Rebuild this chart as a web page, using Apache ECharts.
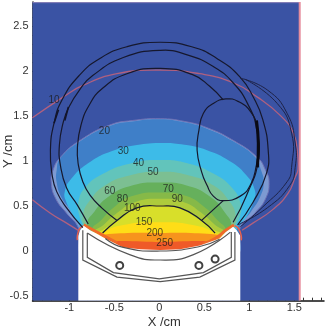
<!DOCTYPE html>
<html><head><meta charset="utf-8">
<style>html,body{margin:0;padding:0;background:#fff}#c{width:327px;height:333px}</style>
<script src="https://cdn.jsdelivr.net/npm/echarts@6/dist/echarts.min.js"></script>
</head><body><div id="c"></div>
<script>
const xTicks=[-1,-0.5,0,0.5,1,1.5];
const yTicks=[-0.5,0,0.5,1,1.5,2,2.5];
const xMinor=[-1.4,-1.3,-1.2,-1.1,-0.9,-0.8,-0.7,-0.6,-0.4,-0.3,-0.2,-0.1,0.1,0.2,0.3,0.4,0.6,0.7,0.8,0.9,1.1,1.2,1.3,1.4,1.6,1.7,1.8];
const yMinor=[-0.4,-0.3,-0.2,-0.1,0.1,0.2,0.3,0.4,0.6,0.7,0.8,0.9,1.1,1.2,1.3,1.4,1.6,1.7,1.8,1.9,2.1,2.2,2.3,2.4,2.6,2.7];
const XMIN=-1.409,XMAX=1.83,YMIN=-0.552,YMAX=2.767;

const domain=[[XMIN,YMIN],[1.56,YMIN],[1.56,YMAX],[XMIN,YMAX]];
const band15=[[0.01,1.47],[-0.30,1.45],[-0.55,1.40],[-0.88,1.23],[-1.10,1.04],[-1.18,0.90],[-1.20,0.76],[-1.15,0.58],[-1.03,0.42],[-0.90,0.26],[-0.83,-0.04],[0.84,-0.04],[0.90,0.26],[1.06,0.42],[1.18,0.58],[1.22,0.76],[1.18,0.90],[1.09,1.04],[0.82,1.23],[0.53,1.37],[0.28,1.44]];
const band20=[[0.01,1.465],[-0.30,1.44],[-0.55,1.39],[-0.88,1.22],[-1.10,1.03],[-1.14,0.90],[-1.14,0.76],[-1.09,0.60],[-0.98,0.44],[-0.88,0.26],[-0.83,-0.04],[0.84,-0.04],[0.90,0.28],[1.02,0.44],[1.12,0.60],[1.16,0.76],[1.13,0.90],[1.07,1.04],[0.82,1.22],[0.53,1.36],[0.28,1.43]];
const band30=[[0.01,1.20],[-0.30,1.17],[-0.50,1.12],[-0.77,0.99],[-0.99,0.79],[-1.05,0.66],[-1.04,0.56],[-0.95,0.38],[-0.88,0.26],[-0.8,-0.04],[0.8,-0.04],[0.87,0.26],[0.97,0.38],[1.05,0.56],[1.06,0.68],[0.96,0.85],[0.78,1.00],[0.53,1.12],[0.28,1.18]];
const band40=[[0.01,1.01],[-0.33,0.97],[-0.62,0.86],[-0.82,0.71],[-0.90,0.54],[-0.89,0.40],[-0.84,0.26],[-0.75,-0.04],[0.75,-0.04],[0.84,0.26],[0.90,0.40],[0.90,0.54],[0.80,0.71],[0.60,0.86],[0.33,0.97]];
const band50=[[0.01,0.88],[-0.33,0.84],[-0.60,0.73],[-0.78,0.55],[-0.85,0.39],[-0.83,0.26],[-0.75,-0.04],[0.75,-0.04],[0.83,0.26],[0.85,0.39],[0.78,0.55],[0.60,0.73],[0.33,0.84]];
const band60=[[0.01,0.76],[-0.33,0.72],[-0.57,0.60],[-0.72,0.44],[-0.80,0.29],[-0.7,-0.04],[0.7,-0.04],[0.80,0.27],[0.72,0.44],[0.57,0.60],[0.33,0.72]];
const band70=[[0.01,0.65],[-0.30,0.61],[-0.50,0.49],[-0.65,0.34],[-0.75,0.23],[-0.7,-0.04],[0.7,-0.04],[0.74,0.23],[0.65,0.34],[0.50,0.49],[0.30,0.61]];
const band90=[[0.01,0.58],[-0.28,0.54],[-0.46,0.43],[-0.62,0.29],[-0.75,0.18],[-0.6,-0.04],[0.6,-0.04],[0.75,0.18],[0.62,0.29],[0.46,0.43],[0.28,0.54]];
const band100=[[0.01,0.51],[-0.25,0.47],[-0.47,0.33],[-0.62,0.24],[-0.72,0.16],[-0.6,-0.04],[0.6,-0.04],[0.72,0.16],[0.60,0.24],[0.47,0.33],[0.23,0.47]];
const band150=[[0.01,0.32],[-0.40,0.29],[-0.63,0.20],[-0.66,0.12],[-0.5,-0.04],[0.5,-0.04],[0.67,0.12],[0.62,0.20],[0.37,0.29]];
const band200=[[0.01,0.20],[-0.35,0.20],[-0.68,0.17],[-0.72,0.10],[-0.5,-0.04],[0.5,-0.04],[0.72,0.10],[0.70,0.17],[0.35,0.20]];
const band250=[[0.01,0.10],[-0.47,0.11],[-0.6,0.08],[-0.5,-0.04],[0.5,-0.04],[0.62,0.08],[0.47,0.11]];
const applicatorMask=[[-0.90,YMIN],[-0.90,0.17],[-0.88,0.23],[-0.84,0.28],[-0.77,0.23],[-0.71,0.20],[-0.60,0.14],[-0.50,0.09],[-0.40,0.04],[-0.21,0.02],[0.01,0.01],[0.23,0.02],[0.45,0.06],[0.56,0.10],[0.67,0.14],[0.74,0.21],[0.82,0.27],[0.86,0.23],[0.90,0.17],[0.90,YMIN]];

const iso10Upper=[[-1.41,1.48],[-1.07,1.71],[-0.85,1.84],[-0.47,1.97],[0.01,2.01],[0.45,1.97],[0.82,1.87],[1.09,1.71],[1.34,1.51],[1.49,1.31],[1.54,1.04],[1.54,0.90],[1.51,0.82],[1.43,0.64],[1.26,0.46],[1.04,0.31],[0.92,0.23]];
const iso10Lower=[[-1.41,0.57],[-1.21,0.42],[-1.03,0.31],[-0.90,0.23]];
const rimRedL=[[-0.91,0.12],[-0.91,0.17],[-0.89,0.24],[-0.85,0.28]];
const rimRedR=[[0.91,0.12],[0.91,0.17],[0.88,0.25],[0.84,0.28]];
const rimOrangeL=[[-0.84,0.29],[-0.71,0.22],[-0.60,0.16],[-0.47,0.09]];
const rimOrangeR=[[0.83,0.29],[0.74,0.23],[0.62,0.14],[0.49,0.08]];
const edgeRight=[[1.56,YMIN],[1.56,YMAX]];
const edgeTop=[[XMIN,2.76],[1.56,2.76]];

const curveA=[[-0.85,0.26],[-1.03,0.48],[-1.14,0.66],[-1.19,0.84],[-1.21,1.12],[-1.17,1.42],[-1.08,1.68],[-0.89,1.95],[-0.66,2.14],[-0.36,2.27],[0.01,2.32],[0.36,2.27],[0.64,2.14],[0.90,1.93],[1.05,1.70],[1.15,1.46],[1.21,1.12],[1.19,0.86],[1.04,0.54],[0.87,0.29]];
const curveB=[[-0.79,0.30],[-0.91,0.51],[-1.03,0.70],[-1.10,0.96],[-1.11,1.18],[-1.07,1.42],[-1.01,1.59],[-0.88,1.80],[-0.74,1.95],[-0.40,2.15],[0.01,2.23],[0.31,2.18],[0.60,2.05],[0.82,1.87],[0.99,1.62],[1.08,1.36],[1.10,1.01],[0.97,0.62],[0.82,0.32]];
const curveC=[[-0.47,0.34],[-0.64,0.48],[-0.77,0.62],[-0.85,0.77],[-0.90,0.96],[-0.91,1.15],[-0.87,1.40],[-0.78,1.62],[-0.64,1.80],[-0.36,1.97],[0.01,2.03],[0.37,1.96],[0.56,1.83],[0.71,1.68]];
const arc100=[[-0.63,0.20],[-0.47,0.34],[-0.25,0.48],[0.01,0.50],[0.23,0.48],[0.47,0.34],[0.62,0.20]];
const oval=[[0.74,1.69],[0.88,1.66],[1.02,1.54],[1.09,1.36],[1.10,1.10],[1.08,0.96],[1.02,0.75],[0.90,0.61],[0.71,0.56],[0.60,0.61],[0.53,0.73],[0.47,0.88],[0.42,1.12],[0.44,1.34],[0.49,1.53],[0.60,1.64]];
const ovalLink=[[0.71,0.56],[0.47,0.34]];
const lobe1=[[0.90,1.92],[1.20,1.79],[1.42,1.53],[1.51,1.20],[1.51,0.93],[1.45,0.73],[1.20,0.48],[0.87,0.29]];
const lobe2=[[0.95,1.91],[1.31,1.64],[1.47,1.31],[1.47,0.93],[1.42,0.77],[1.15,0.49],[0.90,0.27]];
const thickR=[[1.08,1.45],[1.10,1.20],[1.09,0.93]];
const thickL1=[[-1.12,1.57],[-1.17,1.42]];
const thickL2=[[-1.01,1.60],[-1.05,1.45]];
const shell1=[[-0.85,0.23],[-0.85,-0.10],[-0.47,-0.29],[0.01,-0.34],[0.45,-0.29],[0.84,-0.10],[0.84,0.21]];
const shell2=[[-0.80,0.20],[-0.80,-0.07],[-0.51,-0.24],[0.00,-0.31],[0.49,-0.24],[0.80,-0.07],[0.80,0.21]];
const shell3=[[-0.80,0.20],[-0.33,-0.04],[0.01,-0.10],[0.38,-0.04],[0.79,0.21]];
const shell4=[[-0.60,0.14],[-0.40,0.04],[0.01,0.00],[0.45,0.05],[0.67,0.13]];
const seeds=[[-0.44,-0.16],[0.44,-0.16],[0.62,-0.09]];
const isoNames=['10','20','30','40','50','60','70','80','90','100','150','200','250'];
const isoX=[-1.17,-0.61,-0.40,-0.23,-0.07,-0.55,0.10,-0.41,0.20,-0.30,-0.17,-0.05,0.06];
const isoY=[1.67,1.33,1.11,0.97,0.87,0.66,0.69,0.57,0.57,0.48,0.32,0.20,0.09];

function shapeSeries(kind,pts,style,smooth){
  return {type:'custom',coordinateSystem:'cartesian2d',silent:true,clip:true,data:[[0,0]],
    renderItem:function(p,api){
      return {type:kind,shape:{points:pts.map(function(q){return api.coord(q);}),smooth:smooth||0},style:style};
    }};
}
function poly(pts,fill,smooth,stroke,sw){
  return shapeSeries('polygon',pts,{fill:fill,stroke:stroke||null,lineWidth:sw||0},smooth);
}
function line(pts,color,w,smooth){
  return shapeSeries('polyline',pts,{fill:null,stroke:color,lineWidth:w},smooth===undefined?0.5:smooth);
}
const S=0.5;
const series=[
  poly(domain,'#3a53a4'),
  line(edgeTop,'#8d84b8',1,0),
  poly(band15,'#7d9ad2',S,'#6f72b5',1),
  poly(band20,'#3f7fc8',S),
  poly(band30,'#3dbbe8',S),
  poly(band40,'#62c4bb',S),
  poly(band50,'#7cbf92',S),
  poly(band60,'#66b05c',S),
  poly(band70,'#86b948',S),
  poly(band90,'#aecb3c',S),
  poly(band100,'#d8df2a',S),
  poly(band150,'#ffdd17',S),
  poly(band200,'#f7941d',0.3),
  poly(band250,'#ef5a28',0.3),
  line(rimOrangeL,'#ef6a2a',3),
  line(rimOrangeR,'#ef6a2a',3),
  poly(applicatorMask,'#ffffff',0),
  line(rimRedL,'#e8604c',1.5),
  line(rimRedR,'#e8604c',1.5),
  line(iso10Upper,'#b0607f',1.3),
  line(iso10Lower,'#b0607f',1.3),
  line(edgeRight,'#e58c9c',2,0),
  line(curveA,'#16182e',1.2),
  line(curveB,'#16182e',1.2),
  line(curveC,'#16182e',1.2),
  line(arc100,'#16182e',1.2),
  poly(oval,'none',S,'#16182e',1.2),
  line(ovalLink,'#16182e',1.2,0),
  line(lobe1,'#1e2348',1),
  line(lobe2,'#1e2348',1),
  line(thickR,'#0a0a14',3,0.5),
  line(thickL1,'#12142a',1.6,0),
  line(thickL2,'#12142a',1.6,0),
  line(shell1,'#555',1.2,0),
  line(shell2,'#555',1.2,0),
  line(shell3,'#555',1.2),
  line(shell4,'#555',1.2),
  {type:'scatter',data:seeds,symbol:'circle',symbolSize:7,silent:true,
    itemStyle:{color:'#fff',borderColor:'#111',borderWidth:2}},
  {type:'scatter',symbolSize:0,silent:true,
    data:isoNames.map(function(n,i){return {name:n,value:[isoX[i],isoY[i]]};}),
    label:{show:true,position:'inside',formatter:'{b}',color:'#1c1c1c',fontSize:10,fontFamily:'Liberation Sans'}}
];
const font={color:'#333',fontSize:11,fontFamily:'Liberation Sans'};
const chart=echarts.init(document.getElementById('c'),null,{renderer:'canvas'});
chart.setOption({
  animation:false,
  grid:{left:32.5,right:3,top:2,bottom:32.3,containLabel:false,outerBoundsMode:'none'},
  xAxis:[
    {type:'value',min:XMIN,max:XMAX,name:'X /cm',nameLocation:'middle',nameGap:15,nameMoveOverlap:false,
      nameTextStyle:{color:'#333',fontSize:13,fontFamily:'Liberation Sans',padding:[0,28,0,0]},
      axisLine:{show:true,onZero:false,lineStyle:{color:'#111',width:1.5}},
      axisTick:{show:true,inside:true,length:6,customValues:xTicks,lineStyle:{color:'#111',width:1}},
      axisLabel:Object.assign({show:true,margin:2,customValues:xTicks,showMinLabel:true,showMaxLabel:true},font),
      splitLine:{show:false}},
    {type:'value',min:XMIN,max:XMAX,position:'bottom',
      axisLine:{show:false,onZero:false},
      axisTick:{show:true,inside:true,length:3,customValues:xMinor,lineStyle:{color:'#333',width:1}},
      axisLabel:{show:false},splitLine:{show:false}}
  ],
  yAxis:[
    {type:'value',min:YMIN,max:YMAX,name:'Y /cm',nameLocation:'middle',nameGap:18,nameMoveOverlap:false,
      nameTextStyle:{color:'#333',fontSize:13,fontFamily:'Liberation Sans'},
      axisLine:{show:true,onZero:false,lineStyle:{color:'#111',width:1.5}},
      axisTick:{show:true,inside:true,length:6,customValues:yTicks,lineStyle:{color:'#111',width:1}},
      axisLabel:Object.assign({show:true,margin:4,customValues:yTicks,padding:[2,0,0,0]},font),
      splitLine:{show:false}},
    {type:'value',min:YMIN,max:YMAX,position:'left',
      axisLine:{show:false,onZero:false},
      axisTick:{show:true,inside:true,length:3,customValues:yMinor,lineStyle:{color:'#222',width:1}},
      axisLabel:{show:false},splitLine:{show:false}}
  ],
  series:series
});
</script></body></html>
